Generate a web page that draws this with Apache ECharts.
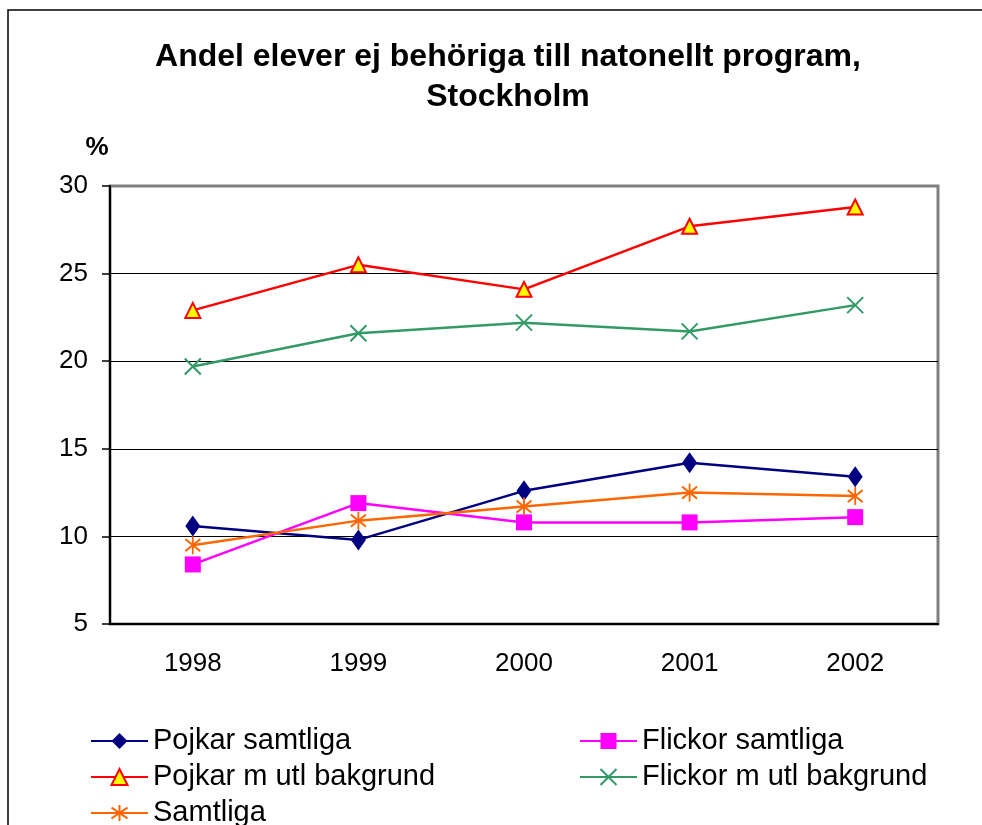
<!DOCTYPE html>
<html>
<head>
<meta charset="utf-8">
<script src="https://cdn.jsdelivr.net/npm/echarts@6/dist/echarts.min.js"></script>
<style>
  html, body { margin: 0; padding: 0; background: #fff; }
  #main { width: 982px; height: 825px; }
</style>
</head>
<body>
<div id="main"></div>
<script>
// data
const years = ['1998', '1999', '2000', '2001', '2002'];
const pojkarSamtliga = [10.6, 9.8, 12.6, 14.2, 13.4];
const flickorSamtliga = [8.4, 11.9, 10.8, 10.8, 11.1];
const pojkarUtl = [22.9, 25.5, 24.1, 27.7, 28.8];
const flickorUtl = [19.7, 21.6, 22.2, 21.7, 23.2];
const samtliga = [9.5, 10.9, 11.7, 12.5, 12.3];

const font = "'Liberation Sans', Arial, sans-serif";
const legendText = {fontFamily: font, fontSize: 29, color: '#000', lineHeight: 30};

let chart = echarts.init(document.getElementById('main'));

let option = {
  animation: false,
  backgroundColor: '#fff',
  title: [
    {
      text: 'Andel elever ej behöriga till natonellt program,\nStockholm',
      left: 503,
      top: 32,
      textAlign: 'center',
      textStyle: {fontFamily: font, fontSize: 32, fontWeight: 'bold', color: '#000', lineHeight: 40}
    },
    {
      text: '%',
      left: 92,
      top: 130,
      textAlign: 'center',
      textStyle: {fontFamily: font, fontSize: 26, fontWeight: 'bold', color: '#000'}
    }
  ],
  graphic: [
    { // outer frame
      type: 'rect',
      shape: {x: 8, y: 10, width: 1100, height: 1000},
      style: {fill: 'none', stroke: '#000', lineWidth: 1.5},
      silent: true
    }
  ],
  grid: {
    left: 110, right: 44, top: 186, bottom: 201,
    show: true, borderColor: '#808080', borderWidth: 3
  },
  legend: [
    {
      data: ['Pojkar samtliga', 'Pojkar m utl bakgrund'],
      orient: 'vertical', left: 85, top: 721,
      itemWidth: 57, itemHeight: 20, itemGap: 6,
      textStyle: legendText
    },
    {
      data: ['Samtliga'],
      orient: 'vertical', left: 85, top: 793,
      itemWidth: 57, itemHeight: 20,
      textStyle: legendText
    },
    {
      data: ['Flickor samtliga', 'Flickor m utl bakgrund'],
      orient: 'vertical', left: 574, top: 721,
      itemWidth: 57, itemHeight: 20, itemGap: 6,
      textStyle: legendText
    }
  ],
  xAxis: {
    type: 'category',
    data: years,
    axisLine: {lineStyle: {color: '#000', width: 2}},
    axisTick: {length: 8, lineStyle: {color: '#000', width: 1.5}},
    axisLabel: {fontFamily: font, fontSize: 26, color: '#000', margin: 27}
  },
  yAxis: {
    type: 'value',
    min: 5, max: 30, interval: 5,
    axisLine: {show: true, lineStyle: {color: '#000', width: 2}},
    axisTick: {show: true, length: 8, lineStyle: {color: '#000', width: 1.5}},
    axisLabel: {fontFamily: font, fontSize: 26, color: '#000', margin: 22},
    splitLine: {lineStyle: {color: ['#000', '#000', '#000', '#000', '#000', '#808080'], width: 1}}
  },
  series: [
    {
      name: 'Pojkar samtliga', type: 'line', data: pojkarSamtliga,
      symbol: 'diamond', symbolSize: [15, 21],
      lineStyle: {color: '#000080', width: 2.5},
      itemStyle: {color: '#000080'}
    },
    {
      name: 'Flickor samtliga', type: 'line', data: flickorSamtliga,
      symbol: 'rect', symbolSize: 16,
      lineStyle: {color: '#ff00ff', width: 2.5},
      itemStyle: {color: '#ff00ff'}
    },
    {
      name: 'Pojkar m utl bakgrund', type: 'line', data: pojkarUtl,
      symbol: 'triangle', symbolSize: [15, 15],
      lineStyle: {color: '#ff0000', width: 2.5},
      itemStyle: {color: '#ffff00', borderColor: '#ff0000', borderWidth: 2}
    },
    {
      name: 'Flickor m utl bakgrund', type: 'line', data: flickorUtl,
      symbol: 'path://M0,0L10,10M10,0L0,10', symbolSize: 16,
      lineStyle: {color: '#339966', width: 2.5},
      itemStyle: {color: 'none', borderColor: '#339966', borderWidth: 2}
    },
    {
      name: 'Samtliga', type: 'line', data: samtliga,
      symbol: 'path://M5,0L5,12M0,2L10,10M10,2L0,10', symbolSize: [15, 18],
      lineStyle: {color: '#ff6600', width: 2.5},
      itemStyle: {color: 'none', borderColor: '#ff6600', borderWidth: 2}
    }
  ]
};

chart.setOption(option);
</script>
</body>
</html>
